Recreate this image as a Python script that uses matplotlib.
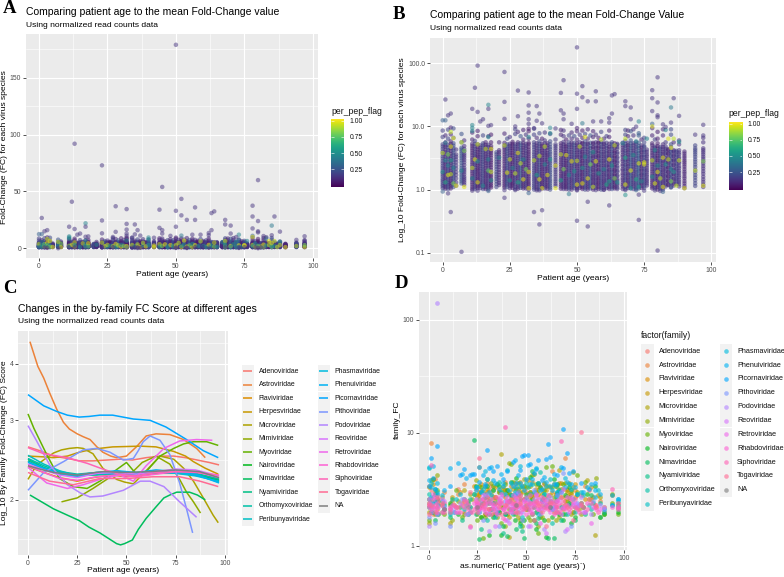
import numpy as np
import matplotlib
matplotlib.use('Agg')
import matplotlib.pyplot as plt
from matplotlib.patches import Rectangle
from matplotlib.ticker import NullFormatter

plt.rcParams['font.family'] = ['Liberation Sans', 'DejaVu Sans']

W, H = 784, 577

# --- patient age vs FC (panels A and B share these) ---
band_ages = [0,1,2,3,4,5,7,8,11,12,13,14,15,16,17,18,20,21,23,24,25,26,27,28,29,30,31,32,34,35,36,37,38,39,40,42,
             44,45,46,47,48,49,50,51,52,53,54,55,56,57,58,59,60,61,62,63,64,65,67,68,69,70,71,72,73,74,75,76,78,79,
             80,81,82,83,84,85,86,87,88,90,94,97]
band_fc = [
    [1.05,1.2,1.38,1.6,1.85,2.2,2.6,3.1,3.7,4.4,5.2,6.8,8.6],
    [1.1,1.25,1.45,1.7,1.95,2.3,2.7,3.3,3.9,4.7,5.6,7.2],
    [1.02,1.18,1.33,1.55,1.8,2.1,2.5,3.0,3.5,4.2,5.1,6.4,8.9],
    [1.12,1.28,1.5,1.75,2.0,2.4,2.85,3.4,4.1,4.9,5.8,7.5,9.6],
    [1.2,1.4,1.65,1.9,2.25,2.7,3.2,3.8,4.5,5.4,6.6,9.3],
    [1.15,1.5,1.9,2.4,3.0,3.6,4.3],
    [1.25,1.45,1.7,2.0,2.4,2.9,3.4,4.0,4.6,5.6,7.6],
    [1.2,1.4,1.6,1.9,2.2,2.7,3.2,3.7,4.4,4.9,6.0],
    [1.02,1.2,1.42,1.65,1.95,2.3,2.7,3.2,3.8,4.5,5.3,6.2,8.0],
    [1.1,1.28,1.5,1.75,2.05,2.45,2.9,3.4,4.0,4.8,5.9],
    [1.05,1.22,1.4,1.62,1.9,2.2,2.6,3.1,3.6,4.3,5.2,7.0,8.5],
    [1.15,1.32,1.55,1.8,2.15,2.55,3.0,3.55,4.2,5.0],
    [1.02,1.2,1.4,1.65,1.95,2.3,2.75,3.25,3.85,4.6,5.4,7.2],
    [1.1,1.26,1.48,1.72,2.0,2.4,2.85,3.35,4.0,4.7,5.6],
    [1.0,1.16,1.36,1.6,1.85,2.2,2.6,3.05,3.6,4.3,5.1,7.0],
    [1.08,1.25,1.45,1.7,2.05,2.45,2.9,3.5,4.1,4.9,5.6,7.4],
    [1.1,1.35,1.6,1.9,2.3,2.75,3.3,3.9],
    [1.18,1.4,1.7,2.05,2.5,3.0,3.6,4.2,5.6],
    [1.08,1.25,1.45,1.7,2.0,2.35,2.8,3.3,3.9,4.6,5.5,7.7],
    [1.2,1.38,1.6,1.85,2.2,2.6,3.1,3.7,4.4,5.2,6.4],
    [1.05,1.22,1.42,1.66,1.95,2.3,2.7,3.2,3.8,4.5,5.3,6.8],
    [1.15,1.3,1.52,1.78,2.1,2.5,2.95,3.5,4.15,4.9,5.7],
    [1.02,1.2,1.4,1.62,1.9,2.25,2.65,3.1,3.7,4.4,5.2,7.6,9.0],
    [1.1,1.28,1.5,1.75,2.05,2.4,2.85,3.4,4.0,4.8,5.6,8.2],
    [1.06,1.22,1.42,1.68,1.98,2.32,2.75,3.25,3.85,4.55,5.4,7.0],
    [1.12,1.3,1.52,1.78,2.12,2.5,2.95,3.5,4.2,5.0,6.2,8.8],
    [1.04,1.2,1.38,1.62,1.92,2.28,2.7,3.15,3.75,4.5,5.3,7.4],
    [1.0,1.18,1.36,1.6,1.88,2.2,2.6,3.1,3.65,4.3,5.2,6.4,8.4,9.2],
    [1.08,1.25,1.46,1.7,2.0,2.35,2.8,3.3,3.9,4.7,5.6,7.4,9.2],
    [1.02,1.2,1.4,1.65,1.95,2.3,2.7,3.2,3.8,4.5,5.4,6.6],
    [1.1,1.28,1.5,1.76,2.06,2.44,2.9,3.4,4.05,4.85,5.8,7.8],
    [1.04,1.2,1.4,1.64,1.94,2.28,2.7,3.2,3.8,4.5,5.3,6.4],
    [1.12,1.3,1.5,1.78,2.1,2.5,2.95,3.5,4.1,4.9,6.0,8.0],
    [1.03,1.2,1.42,1.66,1.96,2.3,2.75,3.25,3.8,4.6,5.4],
    [1.08,1.26,1.46,1.72,2.02,2.4,2.8,3.35,3.95,4.7,5.8,7.6],
    [1.15,1.35,1.6,1.9,2.25,2.7,3.2,3.8,4.5,5.2,6.2],
    [1.03,1.2,1.4,1.65,1.95,2.3,2.7,3.2,3.8,4.5,5.4,7.4,8.8],
    [1.1,1.28,1.5,1.75,2.05,2.45,2.9,3.4,4.0,4.8,5.7,7.0,8.6],
    [1.02,1.18,1.38,1.62,1.9,2.25,2.65,3.15,3.7,4.4,5.2,6.2],
    [1.08,1.26,1.46,1.72,2.02,2.38,2.8,3.3,3.95,4.7,5.6,7.2],
    [1.0,1.16,1.36,1.58,1.86,2.2,2.6,3.05,3.6,4.3,5.1,6.4,8.0],
    [1.05,1.22,1.42,1.68,1.98,2.34,2.75,3.25,3.85,4.6,5.5,7.0],
    [1.0,1.14,1.34,1.56,1.82,2.16,2.55,3.0,3.55,4.2,5.0,6.2,8.4,9.4],
    [1.06,1.24,1.44,1.7,2.0,2.36,2.8,3.3,3.9,4.65,5.6,7.4],
    [1.02,1.18,1.38,1.62,1.9,2.24,2.65,3.15,3.7,4.4,5.3,6.6,8.6],
    [1.08,1.26,1.48,1.74,2.04,2.42,2.85,3.4,4.0,4.8,5.8,7.6],
    [1.0,1.15,1.34,1.58,1.86,2.2,2.6,3.05,3.6,4.3,5.2,6.4,9.0],
    [1.04,1.22,1.42,1.66,1.96,2.3,2.72,3.2,3.8,4.55,5.5,7.2],
    [1.0,1.18,1.38,1.6,1.9,2.24,2.66,3.15,3.7,4.45,5.3,6.8,8.4],
    [1.06,1.24,1.44,1.7,2.0,2.36,2.78,3.3,3.9,4.6,5.6,7.4],
    [1.02,1.2,1.4,1.64,1.94,2.28,2.7,3.2,3.75,4.5,5.4,6.6],
    [1.08,1.26,1.46,1.72,2.02,2.4,2.84,3.36,3.95,4.7,5.6,8.2],
    [1.0,1.18,1.36,1.6,1.88,2.22,2.62,3.1,3.65,4.35,5.2,6.4],
    [1.05,1.22,1.42,1.68,1.98,2.34,2.76,3.25,3.85,4.6,5.5,7.0],
    [1.02,1.2,1.4,1.62,1.92,2.26,2.68,3.15,3.7,4.4,5.3,6.8,8.6],
    [1.1,1.28,1.48,1.74,2.04,2.42,2.86,3.4,4.0,4.8,5.6],
    [1.04,1.2,1.4,1.66,1.96,2.3,2.72,3.2,3.8,4.5,5.4],
    [1.08,1.25,1.46,1.7,2.0,2.38,2.8,3.3,3.9,4.7,5.3],
    [1.02,1.2,1.42,1.68,2.0,2.36,2.8,3.3,3.9,4.6,5.5],
    [1.1,1.28,1.5,1.76,2.08,2.46,2.9,3.45,4.1,4.9,5.9,7.4,8.8],
    [1.05,1.24,1.44,1.7,2.0,2.36,2.8,3.3,3.9,4.6,5.4,7.0,8.6],
    [1.12,1.3,1.52,1.78,2.1,2.5,2.95,3.5,4.15,4.9,6.0,8.4],
    [1.02,1.2,1.4,1.64,1.94,2.3,2.7,3.2,3.8,4.5,5.4,7.2,9.0],
    [1.08,1.26,1.48,1.74,2.04,2.42,2.85,3.4,4.0,4.75,5.6],
    [1.04,1.22,1.42,1.66,1.96,2.3,2.72,3.2,3.8,4.55,5.5,7.2,7.8],
    [1.14,1.32,1.54,1.8,2.14,2.52,3.0,3.55,4.2,5.0,6.2],
    [1.06,1.24,1.44,1.7,2.0,2.36,2.8,3.3,3.95,4.7,5.6,6.6],
    [1.16,1.36,1.6,1.88,2.2,2.6,3.05,3.6,4.3],
    [1.04,1.2,1.4,1.64,1.94,2.3,2.72,3.2,3.8,4.5,5.4,7.2,9.4],
    [1.1,1.28,1.5,1.76,2.06,2.44,2.9,3.4,4.05,4.8,6.2],
    [1.0,1.18,1.38,1.62,1.92,2.26,2.68,3.15,3.75,4.45,5.4,6.4,8.2],
    [1.08,1.26,1.48,1.74,2.04,2.42,2.85,3.4,4.0,4.7],
    [1.0,1.16,1.36,1.6,1.88,2.22,2.62,3.1,3.65,4.35,5.2,7.2,9.0],
    [1.12,1.3,1.52,1.78,2.1,2.5,2.95,3.5,4.1,4.8,5.6],
    [1.18,1.38,1.62,1.9,2.24,2.66,3.1,3.7,4.3],
    [1.1,1.28,1.5,1.76,2.06,2.44,2.9,3.4,4.0,5.2,7.4,9.0],
    [1.16,1.36,1.6,1.86,2.2,2.6,3.05,3.6,4.2,5.6],
    [1.22,1.44,1.68,2.0,2.36,2.8,3.3,3.9],
    [1.12,1.32,1.56,1.84,2.18,2.6,3.05,3.6,4.2,5.2,6.0],
    [1.05,1.25,1.5,1.78,2.1,2.5,2.9,3.4,4.0],
    [1.14,1.4,1.7,2.05,2.5,3.0,3.6,4.2,5.0],
    [1.1,1.32,1.6,1.95,2.35,2.8,3.3,3.9,4.5,5.6,6.6],
]
# second draw of the same columns, fills the gaps between the first
band_fc_top = [
    [1.13,1.29,1.47,1.72,2.02,2.38,2.82,3.35,4.0,4.8],[1.03,1.17,1.35,1.56,1.82,2.14,2.52,3.0,3.6,4.25,5.0],
    [1.1,1.26,1.44,1.68,1.96,2.3,2.72,3.25,3.85,4.6],[1.04,1.2,1.38,1.62,1.86,2.2,2.62,3.1,3.7,4.5,5.3],
    [1.1,1.3,1.52,1.78,2.08,2.45,2.95,3.5,4.15,4.95],[1.3,1.7,2.15,2.7,3.3],
    [1.35,1.58,1.85,2.2,2.65,3.15,3.7,4.3],[1.3,1.5,1.75,2.05,2.45,2.95,3.45,4.05],
    [1.1,1.3,1.52,1.8,2.12,2.5,2.95,3.5,4.15,4.9],[1.02,1.18,1.38,1.62,1.9,2.25,2.65,3.15,3.7,4.4,5.3],
    [1.13,1.3,1.5,1.76,2.05,2.4,2.85,3.35,3.95,4.7],[1.05,1.22,1.42,1.68,1.98,2.35,2.78,3.28,3.9,4.6],
    [1.1,1.3,1.52,1.8,2.12,2.52,3.0,3.55,4.2,5.0],[1.02,1.18,1.36,1.6,1.86,2.2,2.62,3.1,3.65,4.35,5.1],
    [1.08,1.26,1.48,1.72,2.02,2.4,2.82,3.32,3.95,4.7],[1.16,1.35,1.58,1.86,2.25,2.68,3.2,3.8,4.5],
    [1.22,1.48,1.75,2.1,2.52,3.02,3.6],[1.28,1.55,1.88,2.28,2.75,3.3,3.9],
    [1.16,1.35,1.58,1.85,2.18,2.58,3.05,3.6,4.25,5.0],[1.1,1.28,1.48,1.72,2.02,2.4,2.85,3.4,4.05,4.8],
    [1.14,1.32,1.54,1.8,2.12,2.5,2.95,3.5,4.15,4.9],[1.06,1.22,1.4,1.64,1.94,2.3,2.72,3.2,3.8,4.5,5.3],
    [1.1,1.3,1.52,1.76,2.08,2.45,2.88,3.4,4.05,4.8],[1.03,1.18,1.38,1.62,1.9,2.22,2.62,3.12,3.7,4.4,5.2],
    [1.14,1.32,1.55,1.82,2.15,2.52,3.0,3.55,4.2,5.0],[1.04,1.2,1.4,1.64,1.94,2.3,2.72,3.2,3.85,4.6,5.5],
    [1.12,1.3,1.5,1.76,2.08,2.46,2.9,3.42,4.05,4.85],[1.08,1.26,1.48,1.74,2.03,2.4,2.85,3.35,3.95,4.7,5.5],
    [1.0,1.16,1.36,1.58,1.85,2.18,2.58,3.05,3.6,4.3,5.1],[1.1,1.3,1.52,1.8,2.12,2.5,2.95,3.5,4.15,4.95],
    [1.02,1.2,1.38,1.62,1.9,2.25,2.68,3.15,3.72,4.45,5.3],[1.12,1.3,1.52,1.78,2.1,2.48,2.95,3.5,4.15,4.9],
    [1.04,1.2,1.4,1.64,1.94,2.3,2.72,3.22,3.8,4.5,5.4],[1.12,1.3,1.54,1.8,2.14,2.52,3.0,3.55,4.2,5.0],
    [1.0,1.16,1.36,1.6,1.88,2.22,2.62,3.1,3.68,4.35,5.2],[1.24,1.46,1.74,2.06,2.46,2.95,3.5,4.15,4.85],
    [1.12,1.3,1.52,1.78,2.1,2.5,2.95,3.5,4.15,4.95],[1.02,1.18,1.38,1.62,1.9,2.26,2.66,3.15,3.72,4.4,5.2],
    [1.1,1.26,1.47,1.74,2.05,2.42,2.85,3.4,4.02,4.8],[1.0,1.16,1.34,1.58,1.86,2.18,2.58,3.05,3.62,4.3,5.1],
    [1.08,1.26,1.46,1.72,2.02,2.38,2.8,3.32,3.95,4.7,5.5],[1.14,1.32,1.54,1.8,2.12,2.52,2.98,3.52,4.18,5.0],
    [1.07,1.24,1.44,1.68,1.98,2.34,2.78,3.28,3.88,4.62,5.4],[1.14,1.32,1.56,1.82,2.14,2.54,3.0,3.55,4.2,5.0],
    [1.09,1.26,1.48,1.74,2.04,2.4,2.84,3.35,3.95,4.7,5.5],[1.0,1.16,1.36,1.58,1.86,2.2,2.62,3.08,3.65,4.35,5.2],
    [1.08,1.24,1.44,1.7,2.0,2.38,2.8,3.32,3.92,4.65,5.4],[1.13,1.3,1.52,1.78,2.1,2.46,2.9,3.42,4.05,4.85],
    [1.08,1.26,1.48,1.72,2.04,2.4,2.82,3.35,3.95,4.7,5.5],[1.14,1.32,1.54,1.8,2.12,2.5,2.96,3.5,4.15,4.95],
    [1.1,1.28,1.5,1.76,2.06,2.44,2.88,3.4,4.05,4.8,5.6],[1.0,1.16,1.36,1.6,1.88,2.22,2.62,3.1,3.68,4.4,5.2],
    [1.08,1.26,1.46,1.72,2.02,2.4,2.84,3.35,3.95,4.7,5.4],[1.13,1.3,1.52,1.78,2.08,2.46,2.92,3.45,4.1,4.9],
    [1.1,1.28,1.5,1.74,2.04,2.42,2.86,3.4,4.0,4.75],[1.02,1.18,1.38,1.62,1.9,2.24,2.65,3.14,3.7,4.4,5.2],
    [1.11,1.3,1.5,1.76,2.06,2.44,2.88,3.4,4.02,4.85],[1.02,1.18,1.38,1.62,1.9,2.22,2.65,3.12,3.7,4.4,5.1],
    [1.12,1.3,1.52,1.8,2.12,2.52,3.0,3.55,4.2,5.0],[1.02,1.2,1.4,1.64,1.94,2.3,2.72,3.2,3.82,4.55,5.3],
    [1.14,1.32,1.54,1.8,2.14,2.52,3.0,3.55,4.2,5.0],[1.04,1.2,1.4,1.65,1.94,2.3,2.72,3.22,3.8,4.55,5.4],
    [1.12,1.3,1.54,1.8,2.12,2.5,2.95,3.5,4.15,5.0],[1.02,1.18,1.38,1.62,1.9,2.26,2.66,3.15,3.72,4.45,5.2],
    [1.13,1.3,1.52,1.78,2.08,2.46,2.9,3.42,4.08,4.9],[1.06,1.24,1.44,1.7,2.0,2.35,2.78,3.3,3.9,4.6],
    [1.14,1.32,1.54,1.8,2.12,2.5,2.95,3.5,4.15,4.9],[1.26,1.46,1.72,2.02,2.4,2.84,3.35,3.95],
    [1.12,1.3,1.52,1.78,2.1,2.5,2.96,3.5,4.15,5.0],[1.04,1.2,1.4,1.66,1.96,2.3,2.72,3.22,3.8,4.55],
    [1.1,1.28,1.5,1.76,2.06,2.44,2.9,3.42,4.05,4.85],[1.02,1.18,1.38,1.62,1.9,2.26,2.68,3.15,3.72,4.4],
    [1.08,1.26,1.48,1.72,2.02,2.4,2.84,3.35,3.95,4.7],[1.2,1.4,1.66,1.96,2.3,2.72,3.2,3.8,4.4],
    [1.2,1.38,1.62,1.9,2.24,2.66,3.12,3.7,4.3],[1.08,1.26,1.48,1.72,2.02,2.4,2.84,3.35,3.95,4.7],
    [1.24,1.46,1.74,2.06,2.46,2.9,3.4,4.0],[1.3,1.52,1.8,2.12,2.5,2.95,3.5,4.1],
    [1.22,1.42,1.68,1.98,2.34,2.75,3.25,3.85],[1.14,1.36,1.62,1.92,2.3,2.7,3.15,3.7],
    [1.26,1.55,1.88,2.28,2.75,3.3,3.9,4.5],[1.2,1.45,1.78,2.15,2.58,3.05,3.6,4.2],
]
band_flag = [0.18,0.12,0.2,0.1,0.22,0.15,0.25,0.14,0.1,0.18,0.08,0.14,0.2,0.1,0.16,0.08,0.2,0.12,0.1,0.22,0.14,0.08,0.18,
             0.12,0.25,0.1,0.16,0.08,0.18,0.12,0.2,0.08,0.15,0.1,0.22,0.16,0.1,0.14,0.08,0.2,0.12,0.22,0.1,0.16,0.08,
             0.2,0.12,0.25,0.1,0.15,0.08,0.2,0.12,0.18,0.1,0.22,0.08,0.16,0.12,0.2,0.1,0.25,0.14,0.18,0.28,0.1,0.2,0.14,
             0.1,0.18,0.08,0.2,0.12,0.16,0.1,0.22,0.12,0.18,0.15,0.1,0.2,0.14]

# teal, green and yellow samples scattered through the dense columns
mixed_points = [(0,1.9,.5),(0,3.8,.9),(1,2.9,.45),(1,1.3,.6),(1,5.5,.4),(2,1.7,.95),(2,3.6,.8),(2,2.4,.45),(3,1.75,.9),(3,4.8,.95),(3,2.9,.55),
    (3,8.2,.9),(4,6.5,.95),(4,2.2,.45),(4,1.25,.8),(5,1.15,.95),(7,5.6,.9),(7,2.0,.45),(8,1.1,.95),(8,4.1,.8),(11,8.5,.45),(11,2.2,.9),(11,1.5,.45),
    (12,3.0,.95),(13,5.2,.9),(13,1.3,.95),(13,2.8,.5),(15,1.15,.45),(16,4.4,.9),(17,6.8,.45),(17,2.0,.75),(17,3.0,.45),(18,4.4,.95),(18,1.9,.9),(18,1.4,.5),
    (21,3.2,.45),(23,5.0,.9),(24,1.85,.95),(25,1.4,.5),(25,3.0,.9),(26,2.2,.45),(27,1.8,.9),(28,3.8,.95),(28,1.3,.6),(29,2.6,.9),(30,1.45,.95),(30,3.0,.45),
    (31,2.1,.8),(32,1.9,.95),(32,1.05,.95),(32,6.8,.45),(34,2.9,.9),(35,1.7,.55),(36,1.45,.95),(36,3.4,.9),(37,1.05,.95),(38,2.5,.45),(38,4.8,.9),
    (39,1.7,.95),(40,3.0,.5),(40,7.8,.45),(42,2.4,.95),(42,1.05,.95),(44,3.6,.9),(44,1.4,.55),(45,2.1,.8),(46,3.5,.95),(47,1.7,.45),(48,2.8,.95),(49,1.95,.5),
    (50,2.85,.9),(50,1.2,.95),(51,4.8,.9),(52,1.25,.95),(52,2.2,.5),(53,6.8,.95),(53,3.3,.45),(54,1.5,.95),(55,2.5,.8),(56,1.1,.9),(56,3.9,.5),
    (57,2.8,.95),(58,1.8,.5),(59,6.2,.9),(60,2.1,.45),(61,1.2,.6),(62,1.35,.55),(62,3.0,.95),(63,2.4,.5),(64,1.5,.8),(64,5.0,.9),(65,1.3,.5),
    (67,5.4,.45),(68,6.4,.9),(68,1.2,.95),(68,3.2,.6),(70,2.0,.95),(70,1.05,.45),(71,3.5,.5),(72,1.45,.6),(72,5.8,.45),(73,2.6,.95),(73,1.1,.5),(74,1.35,.45),
    (75,2.5,.95),(75,2.7,.95),(76,6.4,.45),(78,2.9,.9),(78,1.6,.5),(79,1.25,.95),(79,4.2,.45),(80,1.9,.95),(80,2.4,.5),(81,1.5,.9),(82,3.2,.95),(82,1.1,.95),
    (83,8.8,.45),(83,2.5,.5),(84,3.0,.9),(84,6.4,.95),(85,1.35,.8),(85,2.1,.45),(85,4.6,.95),(86,1.9,.5),(86,6.4,.9),(87,1.15,.9),(88,5.7,.5),(88,2.9,.9),
    (90,1.05,.95),(94,2.0,.9),(97,1.15,.95),(97,2.8,.8)]

outlier_points = [(50,179,.15),(13,92,.15),(23,73,.15),(45,54,.15),(80,60,.15),(52,43.5,.15),(12,41,.15),(28,37,.15),(78,37.5,.15),(44,34,.15),
    (32,34.5,.15),(57,36,.15),(50,33,.15),(63,31,.15),(64,32.5,.15),(52,29,.15),(78,28,.15),(86,28,.15),(1,26.7,.15),(54,25,.15),(57,25,.15),
    (68,25,.15),(23,24.5,.15),(80,24,.15),(17,22,.45),(32,21.5,.15),(35,21,.15),(68,21,.15),(70,20,.15),(85,20,.4),(11,19,.15),(17,19,.15),
    (50,19,.15),(44,18,.15),(78,17.5,.15),(13,17,.15),(32,16.5,.15),(45,16,.15),(36,16,.15),(63,16,.15),(3,16,.15),(2,15,.15),(80,15,.15),
    (88,14.7,.15),(28,14.5,.15),(80,14,.15),(45,13,.15),(23,13.2,.15),(32,13,.15),(62,13.5,.15),(1,12.5,.3),(0,12.5,.3),(35,12.3,.15),
    (59,12,.15),(56,12,.15),(11,10.5,.45),(11,9.5,.45),(73,12,.45),(78,11,.3),(78,10,.95),(37,11.2,.15),(17,10.2,.15),(18,10.5,.15),(14,12,.15),
    (15,13,.15),(32,11,.15),(85,11.5,.15),(52,11.2,.4),(62,11.5,.15),(48,11,.15),(82,10.8,.15),(97,10.6,.15),(94,7.4,.15),(97,7.2,.15),
    (40,9.5,.45),(42,9.3,.15),(70,13,.15),(83,9.8,.15),(27,10,.15),(72,9.9,.15),(34,9.4,.15),
    (7,0.103,.15),(80,0.108,.15),(3,0.44,.15),(34,0.44,.15),(37,0.47,.15),(36,0.28,.15),(50,0.32,.15),(54,0.26,.15),(54,0.64,.15),(62,0.56,.15),
    (73,0.33,.15),(23,0.74,.15),(73,0.83,.15),(68,0.82,.5),(2,0.87,.15),(0,0.93,.3),(11,0.96,.15),(13,0.96,.15),(17,0.95,.3),(23,0.98,.15),
    (27,0.98,.15),(32,0.88,.3),(35,0.97,.15),(47,0.85,.4),(50,0.97,.15),(75,0.96,.15),(79,0.97,.15),(81,0.95,.15),(82,0.92,.3),(68,0.98,.15),
    (72,0.98,.3),(36,0.97,.15),(57,0.98,.15),(60,0.99,.15)]

# --- by-family smooth curves (panel C) ---
family_names = ['Adenoviridae','Astroviridae','Flaviviridae','Herpesviridae','Microviridae','Mimiviridae','Myoviridae','Nairoviridae',
                'Nimaviridae','Nyamiviridae','Orthomyxoviridae','Peribunyaviridae','Phasmaviridae','Phenuiviridae','Picornaviridae',
                'Pithoviridae','Podoviridae','Reoviridae','Retroviridae','Rhabdoviridae','Siphoviridae','Togaviridae','NA']

adeno_curve = [(0,2.62),(6,2.57),(13,2.5),(20,2.47),(26,2.44),(33,2.44),(40,2.45),(47,2.46),(53,2.45),(60,2.48),(67,2.5),(74,2.5),(80,2.48),(86,2.45),(92,2.42),(97,2.39)]
astro_curve = [(1,4.48),(5,3.95),(8,3.72),(11,3.45),(14.5,3.18),(18,2.97),(21,2.87),(25,2.8),(28,2.76),(31.5,2.72),(35,2.62),(38,2.55),(42,2.5),(45,2.48),(50,2.5),(55,2.62),(60,2.77),(65,2.8),(72,2.79),(79,2.72),(85.6,2.6),(90,2.48)]
flavi_curve = [(0,2.37),(8,2.3),(16,2.24),(25,2.2),(33,2.24),(42,2.27),(50,2.25),(58,2.27),(67,2.29),(76,2.29),(84,2.27),(91,2.24),(97,2.2)]
herpes_curve = [(0,2.5),(8,2.49),(13,2.48),(20,2.5),(26,2.55),(33,2.59),(43,2.62),(57,2.63),(65,2.62),(74,2.56),(80,2.5),(84,2.43),(90,2.35),(96.6,2.28)]
micro_curve = [(0,2.22),(4.4,2.39),(9,2.47),(13,2.54),(17,2.58),(21,2.6),(25,2.61),(28,2.6),(33,2.53),(38,2.35),(45,2.22),(49,2.19),(53.5,2.17),(60,2.32),(67,2.5),(74,2.46),(79,2.35),(84,2.2),(89,2.02),(94,1.85),(96.6,1.78)]
mimi_curve = [(17,1.98),(25,2.02),(33,2.12),(40,2.22),(45,2.32),(52,2.28),(58,2.42),(65,2.5),(72,2.4),(77,2.22),(80.5,2.08),(84,1.98),(87.6,1.87)]
myo_curve = [(0,3.1),(3,2.88),(9.5,2.52),(16,2.23),(23,2.14),(30,2.12),(36.5,2.2),(43,2.3),(50,2.42),(55,2.28),(60,2.31),(67,2.5),(74,2.6),(79,2.66),(84,2.69),(90.7,2.69),(96.6,2.64)]
nairo_curve = [(0,2.44),(8,2.34),(16,2.28),(25,2.26),(35,2.28),(45,2.3),(55,2.28),(65,2.3),(75,2.3),(85,2.28),(97,2.21)]
nima_curve = [(1,2.05),(13,1.91),(26,1.8),(31,1.74),(36.5,1.69),(45,1.6),(47,1.59),(49,1.6),(53,1.63),(56,1.72),(60,1.82),(65,1.93),(69,2.02),(72,2.05),(75.5,2.08),(82,2.08),(86,2.05),(90,2.0)]
nyami_curve = [(0,2.46),(8,2.36),(16,2.3),(25,2.27),(35,2.27),(45,2.29),(55,2.28),(65,2.3),(75,2.3),(85,2.28),(97,2.22)]
ortho_curve = [(0,2.47),(8,2.38),(16,2.31),(25,2.28),(35,2.3),(45,2.31),(55,2.28),(65,2.31),(75,2.32),(85,2.29),(97,2.23)]
peri_curve = [(0,2.51),(8,2.4),(16,2.32),(25,2.26),(35,2.28),(45,2.3),(55,2.29),(65,2.31),(75,2.3),(85,2.27),(97,2.19)]
phasma_curve = [(0,2.42),(8,2.34),(16,2.29),(25,2.25),(35,2.29),(45,2.28),(55,2.27),(65,2.3),(75,2.29),(85,2.26),(97,2.2)]
phenui_curve = [(0,2.43),(8,2.35),(16,2.29),(25,2.27),(35,2.3),(45,2.32),(55,2.3),(65,2.33),(75,2.31),(85,2.28),(97,2.18)]
picorna_curve = [(0,3.42),(8,3.23),(14.5,3.14),(20,3.08),(26,3.05),(31,3.06),(36.5,3.08),(43,3.08),(53.5,3.02),(62,3.0),(70,2.9),(80.5,2.72),(89,2.57),(96.6,2.48)]
pitho_curve = [(0,2.1),(8,2.3),(18,2.43),(28,2.58),(35,2.6),(41.6,2.55),(48.4,2.45),(53.5,2.47),(56,2.57),(58.5,2.69),(62,2.77),(67,2.71),(72,2.52),(77,2.18),(80.5,1.91),(83.6,1.69)]
podo_curve = [(0,2.92),(4.4,2.7),(11,2.39),(20,2.16),(26.7,2.07),(31.5,2.03),(38,2.04),(48.4,2.1),(57,2.2),(62,2.2),(69,2.14),(77,1.98),(85.6,1.83)]
reo_curve = [(0,2.4),(8,2.33),(16,2.27),(25,2.24),(35,2.29),(45,2.3),(55,2.28),(65,2.31),(75,2.34),(85,2.33),(97,2.26)]
retro_curve = [(0,2.36),(9.5,2.18),(20,2.12),(28,2.16),(38,2.23),(46.7,2.27),(53.5,2.2),(60,2.38),(69,2.6),(77,2.7),(85.6,2.72),(93.6,2.71)]
rhabdo_curve = [(0,2.38),(8,2.3),(16,2.23),(25,2.21),(35,2.25),(45,2.27),(55,2.25),(65,2.28),(75,2.31),(85,2.31),(97,2.24)]
sipho_curve = [(0,2.61),(8,2.53),(20,2.48),(30,2.41),(38,2.34),(46,2.28),(55,2.26),(65,2.3),(75,2.31),(85,2.3),(97,2.27)]
toga_curve = [(0,2.3),(11,2.2),(23,2.16),(36.5,2.23),(50,2.23),(63.6,2.25),(77,2.25),(87.3,2.2),(96.6,2.14)]
na_curve = [(0,2.38),(6,2.34),(13,2.3),(25,2.27),(38,2.31),(50,2.3),(62,2.31),(75,2.33),(87,2.31),(97,2.24)]
family_curves = [adeno_curve, astro_curve, flavi_curve, herpes_curve, micro_curve, mimi_curve, myo_curve, nairo_curve, nima_curve, nyami_curve,
                 ortho_curve, peri_curve, phasma_curve, phenui_curve, picorna_curve, pitho_curve, podo_curve, reo_curve, retro_curve,
                 rhabdo_curve, sipho_curve, toga_curve, na_curve]

# --- by-family FC per patient (panel D) ---
adeno_pts = [(0,2.3),(1,3.1),(2,1.9),(3,2.5),(4,2.8),(8,2.4),(11,2.1),(15,3.2),(18,2.0),(21,1.5),(25,2.7),(27,3.1),(29,2.2),(32,3.4),(35,2.1),(38,2.8),(40,1.9),(44,3.3),(47,2.5),(50,3.0),(53,2.2),(56,2.7),(59,3.5),(62,2.1),(65,2.9),(68,2.3),(71,3.2),(74,2.0),(78,2.8),(82,3.1),(85,2.3),(90,2.0),(97,2.4)]
astro_pts = [(1,8.2),(0,3.4),(2,2.7),(3,3.9),(5,2.4),(8,3.0),(12,2.5),(15,2.9),(18,3.5),(24,3.2),(26,5.0),(28,2.6),(30,3.6),(33,2.4),(36,3.0),(39,3.7),(42,2.5),(45,2.9),(48,3.4),(51,2.3),(54,2.8),(57,3.3),(60,2.4),(63,4.6),(66,2.9),(70,6.0),(72,2.6),(75,3.1),(80,3.4),(84,2.7),(88,2.5),
             (26,2.8),(29,2.5),(31,3.1),(34,2.7),(37,2.4),(40,3.1),(43,2.7),(46,3.2),(49,2.6),(52,3.0),(55,2.5),(58,3.1),(61,2.7),(64,2.4),(67,3.0),(70,2.7),(73,2.4),(76,2.8)]
flavi_pts = [(0,2.6),(2,3.5),(4,2.1),(7,2.7),(13,2.3),(16,3.0),(20,2.5),(23,3.4),(26,2.9),(29,1.9),(31,2.6),(34,3.3),(37,2.2),(41,2.9),(44,2.4),(47,3.7),(50,2.1),(52,2.7),(55,3.2),(58,2.3),(61,2.8),(64,2.0),(67,3.6),(70,2.5),(73,2.9),(76,2.2),(80,2.6),(83,3.3),(86,2.2),(94,2.8),
             (27,3.5),(30,3.0),(33,2.6),(36,3.1),(39,2.7),(42,3.4),(46,2.8),(49,3.2),(53,3.7),(56,2.9),(60,3.4),(63,3.0),(66,2.6),(69,3.2),(72,3.6),(75,2.7)]
herpes_pts = [(0,3.3),(1,2.0),(3,3.0),(5,2.5),(8,2.1),(12,2.7),(17,2.4),(21,2.2),(24,2.8),(27,2.3),(30,3.2),(33,2.7),(36,2.0),(39,3.1),(42,2.7),(45,2.2),(48,3.0),(51,3.8),(54,2.4),(57,2.0),(60,3.1),(63,2.5),(66,3.3),(69,2.1),(72,2.8),(75,3.5),(79,2.2),(83,2.6),(87,2.8),(90,2.2),
              (26,3.0),(29,3.4),(32,2.9),(35,3.5),(38,3.3),(41,3.0),(44,3.6),(47,2.8),(50,3.3),(53,2.9),(56,3.5),(59,2.7),(62,3.3),(65,2.9),(68,3.6),(71,3.0),(74,3.3)]
micro_pts = [(0,2.0),(0,1.6),(2,3.9),(4,2.6),(7,2.3),(11,1.6),(14,2.2),(18,3.1),(22,2.6),(25,1.9),(28,3.0),(31,2.1),(34,2.7),(37,6.5),(40,2.4),(41,1.2),(43,3.2),(46,1.8),(49,2.6),(52,3.4),(55,2.0),(58,2.9),(61,1.7),(64,3.5),(67,4.7),(70,2.3),(73,3.0),(77,2.1),(81,3.8),(85,1.25),(88,2.7),(97,2.2),
             (27,2.3),(30,2.7),(33,1.9),(36,2.4),(38,3.2),(41,1.8),(44,2.6),(47,3.0),(50,2.1),(53,2.7),(56,3.1),(59,2.2),(62,2.8),(65,2.2),(68,2.7),(71,3.1),(74,2.0)]
mimi_pts = [(0,2.4),(1,3.8),(3,1.9),(4,4.2),(7,2.0),(12,1.7),(15,2.5),(18,1.9),(21,2.9),(24,3.8),(27,1.8),(30,2.4),(33,3.1),(36,2.0),(39,1.5),(41,5.4),(44,2.9),(47,1.7),(50,2.7),(53,4.2),(56,1.5),(59,3.6),(62,2.2),(65,1.7),(68,3.2),(71,2.5),(74,4.5),(78,1.9),(82,2.6),(86,4.0),(90,1.9),(94,2.9),(97,2.1),
            (26,3.4),(29,1.9),(32,3.6),(35,1.8),(38,3.0),(40,1.9),(43,3.7),(46,2.0),(49,3.9),(52,1.7),(55,3.0),(58,1.8),(61,3.4),(64,2.7),(67,1.8),(70,3.6),(73,1.9),(76,3.0)]
myo_pts = [(0,1.7),(1,2.5),(2,3.9),(4,3.1),(8,1.9),(11,2.3),(14,3.1),(17,1.8),(20,2.2),(23,2.9),(25,1.7),(28,1.17),(30,3.9),(32,2.1),(35,2.6),(37,1.6),(40,2.9),(42,5.3),(44,1.9),(46,3.6),(48,1.5),(50,2.3),(52,3.0),(54,4.3),(56,1.3),(58,2.5),(60,5.0),(63,5.1),(66,2.0),(69,3.5),(72,2.7),(76,4.2),(80,3.7),(84,1.9),(88,1.8),(94,2.4),(97,1.9),
           (26,2.6),(27,3.3),(29,1.8),(31,2.5),(33,3.4),(34,1.9),(36,3.0),(38,2.2),(39,3.5),(41,2.1),(43,2.8),(45,3.2),(47,2.6),(49,3.4),(51,1.8),(53,2.6),(55,3.5),(57,1.8),(59,3.1),(61,2.3),(63,3.3),(65,2.5),(67,3.1),(70,1.9),(73,3.1),(75,2.2)]
nairo_pts = [(0,2.2),(3,2.9),(5,1.9),(11,2.4),(15,1.9),(18,2.6),(21,2.0),(24,3.4),(26,2.2),(29,2.9),(31,1.25),(34,2.4),(37,1.24),(40,3.1),(43,2.1),(45,4.0),(47,1.6),(50,2.9),(53,1.9),(55,1.4),(57,3.3),(60,1.2),(62,2.5),(64,3.9),(67,1.9),(70,2.8),(73,1.6),(78,2.4),(81,2.9),(85,3.4),(90,1.9),(97,2.0),
             (27,1.8),(30,3.4),(33,1.8),(36,3.4),(39,1.9),(42,3.7),(44,1.7),(46,3.0),(49,1.7),(52,4.1),(54,1.7),(56,3.6),(59,1.7),(63,1.8),(66,3.5),(69,1.7),(72,3.3),(75,1.8)]
nima_pts = [(1,2.0),(3,1.7),(4,2.6),(11,1.8),(16,2.2),(23,8.6),(20,1.9),(26,1.15),(28,2.4),(31,1.9),(33,3.1),(36,2.0),(38,1.5),(40,1.22),(42,2.8),(45,1.4),(47,3.3),(49,1.18),(51,2.1),(53,4.6),(55,1.6),(58,2.6),(61,1.18),(64,1.18),(66,3.0),(69,1.9),(72,2.4),(75,1.7),(79,2.2),(83,2.8),(88,1.8)]
nyami_pts = [(0,2.6),(2,2.0),(3,3.2),(5,2.3),(8,2.1),(12,2.6),(17,1.7),(20,2.4),(24,1.9),(27,1.4),(29,2.7),(32,2.1),(35,3.5),(38,1.3),(41,2.5),(43,1.9),(46,2.9),(48,1.35),(51,3.3),(54,2.2),(56,1.75),(59,2.9),(62,2.2),(65,3.4),(68,1.7),(72,2.3),(76,2.9),(80,1.9),(84,2.4),(90,2.0),(97,2.3)]
ortho_pts = [(0,2.9),(1,2.2),(4,1.9),(7,2.5),(13,2.0),(19,2.3),(21,2.6),(25,2.1),(27,3.0),(30,1.7),(33,2.4),(36,3.7),(39,1.9),(42,2.8),(44,2.3),(47,1.5),(50,3.6),(52,2.5),(55,2.0),(57,4.5),(60,2.3),(63,1.6),(65,2.7),(68,2.2),(72,3.5),(75,2.0),(79,2.8),(83,2.1),(88,2.4),(94,2.3)]
peri_pts = [(0,4.9),(1,3.6),(2,2.4),(4,3.0),(8,2.3),(11,1.9),(14,2.6),(18,2.1),(23,2.9),(26,2.0),(28,3.2),(31,2.4),(34,1.8),(37,3.0),(40,4.7),(42,2.1),(45,3.3),(48,1.8),(50,2.6),(53,3.5),(56,1.9),(59,2.9),(62,3.9),(64,2.2),(67,3.1),(71,1.9),(74,2.6),(78,3.0),(82,2.3),(87,3.1),(97,2.5)]
phasma_pts = [(0,5.0),(1,3.3),(3,2.5),(4,3.6),(7,2.8),(11,2.0),(16,2.9),(21,2.2),(24,3.3),(27,2.4),(29,4.6),(32,2.8),(35,2.0),(38,3.6),(41,2.5),(44,3.0),(47,5.1),(49,2.2),(52,2.9),(55,4.9),(58,2.5),(60,3.4),(63,2.1),(66,2.8),(70,4.0),(73,3.2),(77,2.3),(81,3.3),(85,2.7),(90,2.1),(97,2.6)]
phenui_pts = [(0,3.8),(1,2.7),(2,5.1),(4,2.9),(8,3.1),(11,4.9),(15,5.4),(17,4.3),(19,4.0),(22,4.3),(24,3.1),(26,5.0),(28,4.2),(30,3.9),(32,5.0),(34,3.6),(37,4.3),(39,2.9),(42,3.6),(44,5.8),(46,4.2),(48,3.4),(51,5.2),(53,3.9),(55,4.8),(57,3.1),(59,4.1),(62,3.4),(64,4.3),(66,3.0),(68,5.0),(71,3.7),(75,3.3),(79,3.0),(83,3.5),(85,3.1),(88,2.9),(94,2.8),(97,2.6),
              (25,3.3),(27,3.0),(29,3.5),(31,3.0),(33,3.8),(36,3.2),(38,3.4),(41,3.1),(43,3.4),(45,2.9),(47,3.6),(49,3.1),(52,3.5),(54,3.0),(56,3.6),(58,3.2),(60,3.7),(63,3.1),(65,3.5),(68,3.0),(70,3.3),(73,3.5),(76,2.9)]
picorna_pts = [(4,7.6),(1,6.0),(69,10.8),(61,7.9),(71,6.6),(30,7.0),(48,6.2),(49,6.3),(51,6.3),(0,3.4),(2,4.0),(3,3.2),(11,3.4),(16,4.2),(18,4.8),(21,4.2),(23,4.3),(26,3.7),(29,3.4),(31,4.9),(33,4.6),(35,5.1),(38,3.9),(40,4.6),(43,5.5),(45,3.6),(47,4.7),(50,3.9),(52,5.3),(54,4.4),(56,5.7),(58,3.8),(60,5.9),(62,6.1),(64,3.5),(66,4.2),(69,4.9),(72,4.4),(74,4.6),(78,3.6),(82,3.2),(85,3.6),(94,2.3)]
pitho_pts = [(0,1.8),(1,2.4),(3,1.6),(8,2.2),(11,1.5),(13,2.0),(17,2.6),(20,1.9),(25,2.3),(28,1.7),(30,2.8),(33,2.1),(36,1.5),(39,2.5),(42,2.0),(45,2.9),(48,1.7),(51,2.3),(54,3.1),(57,1.9),(60,2.6),(63,2.1),(66,2.8),(69,4.4),(73,1.5),(76,2.4),(80,2.0),(84,2.5),(90,2.1)]
podo_pts = [(4,140),(0,1.5),(2,2.2),(4,1.9),(7,2.6),(12,2.1),(16,2.4),(19,1.9),(24,2.6),(26,2.0),(29,2.9),(31,1.35),(34,2.2),(37,2.7),(40,1.7),(43,2.3),(46,3.0),(48,2.0),(51,1.5),(54,2.6),(57,2.1),(59,1.4),(62,2.7),(65,2.0),(68,3.0),(70,1.35),(74,2.3),(78,2.7),(83,1.9),(88,2.3)]
reo_pts = [(0,2.6),(1,2.0),(3,2.7),(5,2.2),(8,2.5),(14,2.2),(18,2.6),(21,2.0),(25,2.4),(28,2.8),(31,2.0),(34,1.5),(36,2.5),(39,2.2),(41,1.6),(43,2.8),(46,2.1),(49,2.5),(52,1.5),(55,2.9),(58,2.2),(60,1.3),(63,2.5),(66,2.0),(69,3.2),(71,1.4),(75,2.4),(79,2.0),(84,2.2),(90,2.2),(97,2.2),
           (26,2.1),(29,2.3),(32,2.6),(35,2.1),(37,2.4),(40,2.7),(42,2.1),(45,2.6),(47,2.2),(50,2.7),(53,2.3),(56,2.6),(59,2.4),(61,2.8),(64,2.3),(67,2.6),(70,2.2),(73,2.7),(77,2.3)]
retro_pts = [(0,2.2),(2,2.9),(3,2.1),(4,2.4),(7,2.0),(12,2.3),(15,2.0),(19,2.5),(21,1.45),(24,2.2),(27,2.6),(29,2.0),(32,2.4),(35,1.9),(37,2.9),(39,1.7),(41,2.3),(44,2.7),(47,1.95),(49,2.5),(52,2.1),(55,2.8),(57,1.6),(60,2.5),(62,2.0),(65,2.5),(68,1.9),(71,2.7),(76,2.2),(80,2.0),(83,1.6),(88,2.1),(97,2.1),
             (25,2.4),(28,2.1),(30,2.5),(33,2.2),(36,2.6),(38,2.1),(40,2.5),(43,2.2),(45,2.0),(46,2.5),(48,2.3),(51,2.5),(53,2.0),(54,2.4),(56,2.1),(58,2.5),(61,2.3),(64,2.1),(66,2.5),(69,2.2),(72,2.0),(74,2.4)]
rhabdo_pts = [(0,2.4),(1,2.1),(2,2.6),(4,2.0),(8,2.1),(11,2.2),(14,2.0),(17,2.3),(20,2.1),(23,2.4),(26,2.1),(28,2.6),(30,1.9),(33,2.3),(35,2.7),(38,2.1),(40,2.5),(43,2.0),(45,2.4),(47,2.8),(50,1.9),(53,2.4),(56,2.1),(58,2.7),(61,2.2),(64,1.9),(67,2.4),(70,2.1),(73,2.6),(77,2.0),(81,2.4),(86,2.1),(94,2.2),
              (25,2.3),(27,2.2),(29,2.4),(31,2.1),(34,2.0),(36,2.4),(39,2.3),(41,2.0),(42,2.4),(44,2.2),(46,2.3),(48,2.6),(49,2.1),(51,2.3),(52,2.0),(55,2.3),(57,2.4),(59,2.1),(60,2.3),(62,2.5),(65,2.2),(68,2.1),(71,2.3),(75,2.2)]
sipho_pts = [(39,11.3),(68,8.4),(1,5.2),(0,2.3),(3,2.3),(5,2.6),(8,2.0),(13,2.3),(16,2.0),(19,2.4),(22,2.0),(24,2.5),(27,2.2),(30,2.7),(32,1.9),(34,2.4),(36,2.2),(38,1.75),(41,2.5),(42,2.1),(44,2.3),(46,2.7),(48,2.1),(50,2.4),(53,1.9),(55,2.5),(57,2.2),(59,2.6),(61,2.1),(63,2.4),(66,2.2),(69,2.5),(72,2.1),(75,2.6),(79,2.2),(83,2.4),(87,2.0),(94,3.2),(97,2.2),
             (2,2.2),(4,2.2),(7,2.3),(11,2.1),(14,2.2),(18,2.2),(20,2.3),(23,2.1),(25,2.2),(26,2.4),(28,2.3),(29,2.1),(31,2.4),(33,2.1),(35,2.3),(37,2.5),(39,2.0),(40,2.2),(43,2.4),(45,2.2),(47,2.3),(49,2.2),(51,2.1),(52,2.4),(54,2.2),(56,2.4),(58,2.0),(60,2.2),(62,2.3),(65,2.3),(67,2.0),(70,2.3),(73,2.2),(76,2.1),(78,2.4),(81,2.1),(85,2.2)]
toga_pts = [(78,10.2),(26,6.0),(0,1.9),(1,2.3),(3,2.0),(4,2.7),(7,2.4),(11,2.0),(15,2.2),(18,2.5),(21,3.0),(25,2.0),(28,2.4),(31,2.1),(34,2.7),(37,1.9),(39,2.3),(42,2.6),(45,2.0),(47,2.4),(50,2.2),(52,2.8),(54,1.7),(56,2.3),(60,1.5),(62,2.4),(65,2.0),(68,2.7),(71,2.2),(74,1.7),(78,2.3),(82,2.6),(86,2.3),(97,2.4)]
na_pts = [(8,2.1),(25,2.2),(45,2.3),(62,2.2)]
family_points = [adeno_pts, astro_pts, flavi_pts, herpes_pts, micro_pts, mimi_pts, myo_pts, nairo_pts, nima_pts, nyami_pts, ortho_pts, peri_pts,
                 phasma_pts, phenui_pts, picorna_pts, pitho_pts, podo_pts, reo_pts, retro_pts, rhabdo_pts, sipho_pts, toga_pts, na_pts]

flag_ticks = [0.25, 0.50, 0.75, 1.00]
age_ticks = [0, 25, 50, 75, 100]
age_minor = [12.5, 37.5, 62.5, 87.5]


def hue_colour(hue):
    """ggplot's default hue palette colour, hcl(h, c=100, l=65), as sRGB."""
    L, C = 65.0, 100.0
    u = C * np.cos(np.radians(hue))
    v = C * np.sin(np.radians(hue))
    Y = ((L + 16) / 116) ** 3
    up = u / (13 * L) + 0.19793
    vp = v / (13 * L) + 0.46831
    X = 9 * Y * up / (4 * vp)
    Z = (12 - 3 * up - 20 * vp) * Y / (4 * vp)
    rgb = np.array([[3.2406, -1.5372, -0.4986], [-0.9689, 1.8758, 0.0415], [0.0557, -0.2040, 1.0570]]) @ [X, Y, Z]
    rgb = np.clip(rgb, 0, 1)
    return tuple(np.where(rgb <= 0.0031308, 12.92 * rgb, 1.055 * rgb ** (1 / 2.4) - 0.055))


family_colours = [hue_colour(15 + 360 * i / 22) for i in range(22)] + ['#7F7F7F']

fig = plt.figure(figsize=(W / 100, H / 100), dpi=100)


def make_panel(x0, y0, x1, y1, xlim, ylim, yticks, yminor, ylabels, log=False):
    ax = fig.add_axes([x0 / W, 1 - y1 / H, (x1 - x0) / W, (y1 - y0) / H])
    ax.set_facecolor('#EBEBEB')
    for spine in ax.spines.values():
        spine.set_visible(False)
    if log:
        ax.set_yscale('log')
    ax.set_xlim(*xlim)
    ax.set_ylim(*ylim)
    ax.set_xticks(age_ticks)
    ax.set_xticks(age_minor, minor=True)
    ax.set_yticks(yticks)
    ax.set_yticks(yminor, minor=True)
    ax.set_yticklabels(ylabels)
    ax.yaxis.set_minor_formatter(NullFormatter())
    ax.grid(True, which='major', color='white', linewidth=0.85)
    ax.grid(True, which='minor', color='white', linewidth=0.4)
    ax.set_axisbelow(True)
    ax.tick_params(which='major', length=2, width=0.6, color='#333333', labelcolor='#4D4D4D', labelsize=4.9, pad=1.4)
    ax.tick_params(which='minor', length=0)
    return ax


def draw_age_scatter(ax):
    for rows in (band_fc, band_fc_top):
        for age, values, flag in zip(band_ages, rows, band_flag):
            ax.scatter([age] * len(values), values, c=[flag] * len(values), cmap='viridis', vmin=0, vmax=1,
                       s=10.5, alpha=0.55, linewidths=0)
    # the coloured samples sit over the dark columns
    ages, values, flags = zip(*mixed_points)
    ax.scatter(ages, values, c=flags, cmap='viridis', vmin=0, vmax=1, s=10.5, alpha=0.55, linewidths=0)
    ages, values, flags = zip(*outlier_points)
    ax.scatter(ages, values, c=flags, cmap='viridis', vmin=0, vmax=1, s=10.5, alpha=0.5, linewidths=0)


# Panel A: linear FC
ax_a = make_panel(26, 34, 318, 258, (-4.75, 101.9), (-8.5, 188.5), [0, 50, 100, 150], [25, 75, 125, 175], ['0', '50', '100', '150'])
draw_age_scatter(ax_a)
ax_a.set_xticklabels(age_ticks)

# Panel B: log FC
ax_b = make_panel(429.7, 37.7, 716, 262, (-4.84, 101.75), (0.0711, 254.7), [0.1, 1, 10, 100], [0.316, 3.16, 31.6],
                  ['0.1', '1.0', '10.0', '100.0'], log=True)
draw_age_scatter(ax_b)
ax_b.set_xticklabels(age_ticks)

# Panel C: family curves
ax_c = make_panel(18.3, 331, 228.3, 555, (-4.92, 101.7), (1.51, 4.73), [2, 3, 4], [1.64, 2.45, 3.46, 4.44], ['2', '3', '4'], log=True)
for curve, colour in zip(family_curves, family_colours):
    ages, values = zip(*curve)
    ax_c.plot(ages, values, color=colour, linewidth=1.1, solid_capstyle='butt', solid_joinstyle='round')
ax_c.set_xticklabels(age_ticks)

# Panel D: family scatter
ax_d = make_panel(418.7, 291.7, 627.3, 550, (-5.13, 101.8), (0.916, 178), [1, 10, 100], [3.16, 31.6], ['1', '10', '100'], log=True)
for points, colour in zip(family_points, family_colours):
    ages, values = zip(*points)
    ax_d.scatter(ages, values, color=colour, s=11.5, alpha=0.62, linewidths=0)
ax_d.set_xticklabels(age_ticks)


def colour_bar(x0, y0, x1, y1, title_xy):
    bar = fig.add_axes([x0 / W, 1 - y1 / H, (x1 - x0) / W, (y1 - y0) / H])
    gradient = np.linspace(0, 1, 256).reshape(-1, 1)
    bar.imshow(gradient, cmap='viridis', origin='lower', aspect='auto', extent=(0, 1, -0.03, 1.03))
    bar.set_xlim(0, 1)
    bar.set_ylim(-0.03, 1.03)
    bar.set_xticks([])
    bar.set_yticks(flag_ticks)
    bar.yaxis.tick_right()
    bar.set_yticklabels([f'{t:.2f}' for t in flag_ticks])
    bar.tick_params(axis='y', length=0, labelsize=4.9, labelcolor='#111111', pad=4)
    bar.hlines(flag_ticks, 0, 0.2, color='white', linewidth=0.4)
    bar.hlines(flag_ticks, 0.8, 1, color='white', linewidth=0.4)
    for spine in bar.spines.values():
        spine.set_visible(False)
    overlay.text(title_xy[0], title_xy[1], 'per_pep_flag', fontsize=6.2, va='center', color='#111111')


# Overlay in pixel coordinates for the annotation text and legends
overlay = fig.add_axes([0, 0, 1, 1], zorder=10)
overlay.set_xlim(0, W)
overlay.set_ylim(H, 0)
overlay.axis('off')
overlay.patch.set_alpha(0)

colour_bar(331, 119, 344, 187, (331, 111))
colour_bar(729, 122, 742.3, 190, (728.7, 114))

titles = [(26, 12, 'Comparing patient age to the mean Fold-Change value', 25.7, 'Using normalized read counts data'),
          (430.3, 15.3, 'Comparing patient age to the mean Fold-Change Value', 29, 'Using normalized read counts data'),
          (18.3, 308.7, 'Changes in the by-family FC Score at different ages', 321.7, 'Using the normalized read counts data')]
for x, y, title, sub_y, subtitle in titles:
    overlay.text(x, y, title, fontsize=7.5, va='center', color='black')
    overlay.text(x, sub_y, subtitle, fontsize=6.1, va='center', color='black')

axis_labels = [(172, 274.7, 'Patient age (years)', 0), (5, 147, 'Fold-Change (FC) for each virus species', 90),
               (573, 278, 'Patient age (years)', 0), (403, 150, 'Log_10 Fold-Change (FC) for each virus species', 90),
               (123, 571, 'Patient age (years)', 0), (4.7, 442.7, 'Log_10 By Family Fold-Change (FC) Score', 90),
               (523, 566.7, 'as.numeric(`Patient age (years)`)', 0), (397, 420, 'family_FC', 90)]
for x, y, label, rotation in axis_labels:
    overlay.text(x, y, label, fontsize=6.1, ha='center', va='center', rotation=rotation, color='black')

for x, y, letter in [(3, 8.5, 'A'), (393, 14.5, 'B'), (3, 288.5, 'C'), (395, 283.5, 'D')]:
    overlay.text(x, y, letter, fontsize=13.5, family='Liberation Serif', fontweight='bold', va='center', color='black')

# Legend rows, twelve in the first column
for i, (name, colour) in enumerate(zip(family_names, family_colours)):
    col, row = (0, i) if i < 12 else (1, i - 12)
    y = 371.3 + 13.45 * row
    x = 241.7 + 76 * col
    overlay.add_patch(Rectangle((x, y - 6.7), 12, 13.4, facecolor='#F2F2F2', edgecolor='none'))
    overlay.plot([x + 1.2, x + 10.8], [y, y], color=colour, linewidth=1.1, solid_capstyle='butt')
    overlay.text(x + 17, y, name, fontsize=4.95, va='center', color='#111111')

    y = 351.3 + 13.85 * row
    x = 641.3 + 78.4 * col
    overlay.add_patch(Rectangle((x, y - 6.9), 12.4, 13.8, facecolor='#F2F2F2', edgecolor='none'))
    overlay.scatter([x + 6.2], [y], color=colour, s=11, alpha=0.62, linewidths=0)
    overlay.text(x + 17.4, y, name, fontsize=5.2, va='center', color='#111111')
overlay.text(640.7, 335.7, 'factor(family)', fontsize=6.2, va='center', color='#111111')
overlay.set_xlim(0, W)
overlay.set_ylim(H, 0)

fig.savefig('out.png', dpi=100)
